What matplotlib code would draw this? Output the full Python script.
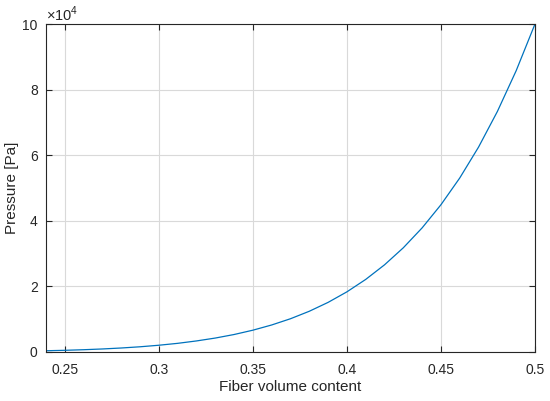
import numpy as np
import matplotlib
matplotlib.use('Agg')
import matplotlib.pyplot as plt
from matplotlib.ticker import FuncFormatter

plt.rcParams.update({
    "font.family": "Liberation Sans",
    "mathtext.fontset": "custom",
    "mathtext.rm": "Liberation Sans",
    "font.size": 10,
})

# values
fiber_content = [0.24, 0.25, 0.26, 0.27, 0.28, 0.29, 0.30, 0.31, 0.32, 0.33,
                 0.34, 0.35, 0.36, 0.37, 0.38, 0.39, 0.40, 0.41, 0.42, 0.43,
                 0.44, 0.45, 0.46, 0.47, 0.48, 0.49, 0.50]
pressure = [380, 515, 695, 925, 1220, 1590, 2060, 2640, 3370, 4250,
            5330, 6650, 8240, 10140, 12420, 15130, 18340, 22130, 26580, 31780,
            37850, 44900, 53060, 62480, 73330, 85770, 100000]
x_ticks = [0.25, 0.30, 0.35, 0.40, 0.45, 0.50]
x_ticklabels = ['0.25', '0.3', '0.35', '0.4', '0.45', '0.5']
y_ticks = [0, 20000, 40000, 60000, 80000, 100000]

dark = '#262626'

fig = plt.figure(figsize=(5.5, 4.01), dpi=100)
ax = fig.add_axes([0.0836, 0.1222, 0.8891, 0.8179])

ax.plot(fiber_content, pressure, color='#0072BD', linewidth=0.9)

ax.set_xlim(0.24, 0.5)
ax.set_ylim(0, 100000)
ax.set_xticks(x_ticks)
ax.set_xticklabels(x_ticklabels)
ax.set_yticks(y_ticks)
ax.yaxis.set_major_formatter(FuncFormatter(lambda v, p: f"{v/1e4:g}"))

ax.grid(True, color='#d9d9d9', linewidth=0.8)
ax.set_axisbelow(True)
ax.tick_params(direction='in', length=4, width=0.8, colors=dark,
               top=True, right=True, labelsize=10)
ax.tick_params(axis='x', pad=8)
ax.tick_params(axis='y', pad=6)
for s in ax.spines.values():
    s.set_color(dark)
    s.set_linewidth(0.8)

ax.set_xlabel('Fiber volume content', fontsize=11, color=dark)
ax.xaxis.set_label_coords(0.5, -0.085)
ax.set_ylabel('Pressure [Pa]', fontsize=11, color=dark)
ax.yaxis.set_label_coords(-0.055, 0.5)
ax.text(0.0, 0.999, r'$\times10^{4}$', transform=ax.transAxes,
        fontsize=10.5, color=dark, ha='left', va='bottom')

fig.savefig('out.png', dpi=100)
